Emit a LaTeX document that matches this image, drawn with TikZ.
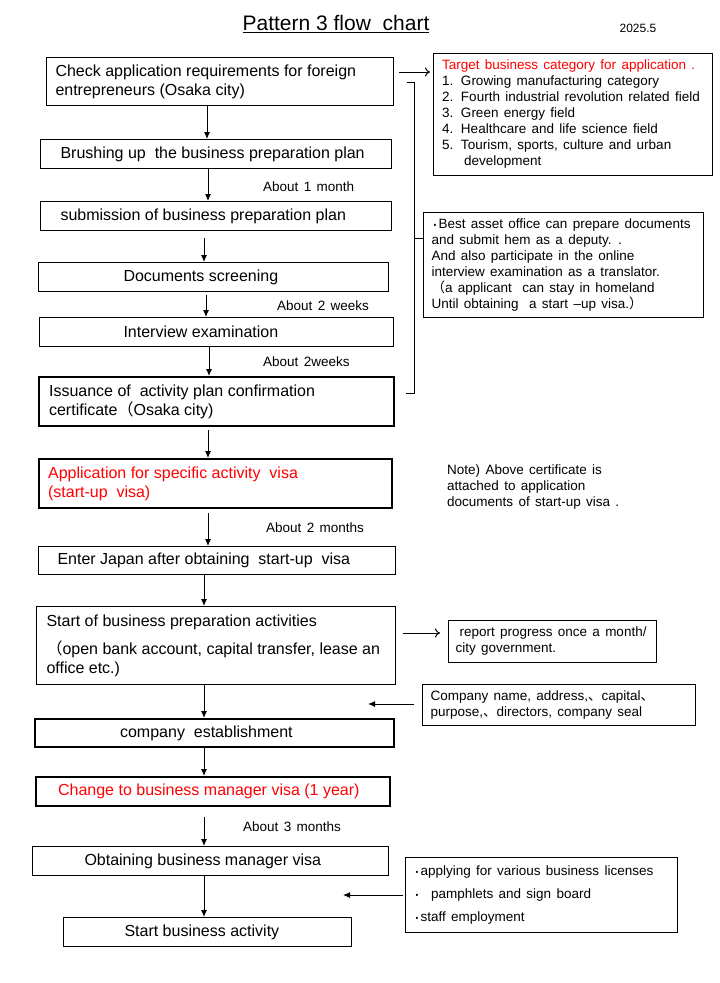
\documentclass[tikz,border=0pt]{standalone}
\usepackage{fontspec}
\setmainfont{Liberation Sans}
\newfontfamily\cjk{Noto Sans CJK JP}
\usetikzlibrary{arrows.meta}
\newcommand{\mainfs}{\fontsize{16pt}{19pt}\selectfont}
\newcommand{\smallfs}{\fontsize{13.5pt}{16pt}\selectfont\spaceskip=5.3pt plus 1pt minus 0.5pt\relax}
\newcommand{\num}[1]{\makebox[19pt][l]{#1}}
\newcommand{\mdot}{\makebox[7pt][c]{\raisebox{-2.2pt}{\scalebox{1.4}{\textperiodcentered}}}}
\tikzset{
  box/.style={draw=black, line width=1pt, anchor=north west, align=flush left, inner ysep=0pt, font=\mainfs},
  heavybox/.style={box, line width=2.2pt},
  sidebox/.style={draw=black, line width=1pt, anchor=north west, align=flush left, inner ysep=0pt, font=\smallfs},
  lbl/.style={anchor=west, inner sep=0pt, font=\smallfs},
  arr/.style={line width=1pt, -{Latex[length=7pt,width=6pt]}},
  oarr/.style={line width=1pt, -{To[length=5pt,width=9pt]}},
  plain/.style={line width=1pt}
}
\begin{document}
\begin{tikzpicture}[x=1pt,y=-1pt]
\useasboundingbox (0,0) rectangle (720,983);
% title
\node[font=\fontsize{21pt}{24pt}\selectfont, inner sep=0pt] (title) at (336,24) {\underline{Pattern 3 flow\ \ chart}};
\node[font=\fontsize{12pt}{14pt}\selectfont, inner sep=0pt] (date) at (638,28) {2025.5};

% main boxes
\node[box, minimum width=347pt, minimum height=48pt, text width=329pt, inner xsep=9pt] (b1) at (46,57)
  {Check application requirements for foreign\\entrepreneurs (Osaka city)};
\node[box, minimum width=351pt, minimum height=29pt, text width=311pt, inner xsep=20pt] (b2) at (40,139)
  {Brushing up\ \ the business preparation plan};
\node[box, minimum width=351pt, minimum height=29pt, text width=311pt, inner xsep=20pt] (b3) at (40,201)
  {submission of business preparation plan};
\node[box, minimum width=350pt, minimum height=29pt, text width=180pt, inner xsep=85pt] (b4) at (38,262)
  {Documents screening};
\node[box, minimum width=354pt, minimum height=29pt, text width=186pt, inner xsep=84pt] (b5) at (39,317)
  {Interview examination};
\node[heavybox, minimum width=355pt, minimum height=49pt, text width=335pt, inner xsep=10pt] (b6) at (38,376)
  {Issuance of\ \ activity plan confirmation\\certificate{\cjk （}Osaka city)};
\node[heavybox, minimum width=353pt, minimum height=49pt, text width=335pt, inner xsep=9pt, text=red] (b7) at (38,458)
  {Application for specific activity\ \ visa\\(start-up\ \ visa)};
\node[box, minimum width=357pt, minimum height=28pt, text width=319pt, inner xsep=19pt] (b8) at (38,546)
  {Enter Japan after obtaining\ \ start-up\ \ visa};
\node[box, minimum width=359pt, minimum height=78pt, text width=339pt, inner xsep=10pt] (b9) at (36,606)
  {Start of business preparation activities\\[9pt]{\cjk （}open bank account, capital transfer, lease an\\office etc.)};
\node[heavybox, minimum width=359pt, minimum height=28pt, text width=189pt, inner xsep=85pt] (b10) at (34,718)
  {company\ \ establishment};
\node[heavybox, minimum width=354pt, minimum height=29pt, text width=310pt, inner xsep=22pt, text=red] (b11) at (35,776)
  {Change to business manager visa (1 year)};
\node[box, minimum width=356pt, minimum height=29pt, text width=252pt, inner xsep=52pt] (b12) at (32,846)
  {Obtaining business manager visa};
\node[box, minimum width=288pt, minimum height=29pt, text width=166pt, inner xsep=61pt] (b13) at (63,917)
  {Start business activity};

% side boxes
\node[sidebox, minimum width=279pt, minimum height=122pt, text width=262pt, inner xsep=8.5pt] (r1) at (433,53)
  {\textcolor{red}{Target business category for application .}\\
   \num{1.}Growing manufacturing category\\
   \num{2.}Fourth industrial revolution related field\\
   \num{3.}Green energy field\\
   \num{4.}Healthcare and life science field\\
   \num{5.}Tourism, sports, culture and urban\\
   \hspace*{22pt}development};
\node[sidebox, minimum width=280pt, minimum height=105pt, text width=264pt, inner xsep=8pt] (r2) at (423,212)
  {\mdot Best asset office can prepare documents\\
   and submit hem as a deputy. .\\
   And also participate in the online\\
   interview examination as a translator.\\
   {\cjk （}a applicant\ \ can stay in homeland\\
   Until obtaining\ \ a start {\textendash}up visa.{\cjk ）}};
\node[lbl, align=flush left] (note) at (447,487)
  {Note) Above certificate is\\attached to application\\documents of start-up visa .};
\node[sidebox, minimum width=208pt, minimum height=42pt, text width=194pt, inner xsep=7pt] (r3) at (448,620)
  {\hspace*{4pt}report progress once a month/\\city government.};
\node[sidebox, minimum width=273pt, minimum height=41pt, text width=257pt, inner xsep=8pt] (r4) at (422,684)
  {Company name, address,{\cjk 、}capital{\cjk 、}\\purpose,{\cjk 、}directors, company seal};
\node[sidebox, minimum width=272pt, minimum height=75pt, text width=256pt, inner xsep=8pt, font=\smallfs\fontsize{13.5pt}{23pt}\selectfont] (r5) at (405,857)
  {\mdot applying for various business licenses\\
   \mdot\ \ pamphlets and sign board\\
   \mdot staff employment};

% labels
\node[lbl] (l1) at (263,187) {About 1 month};
\node[lbl] (l2) at (277,306) {About 2 weeks};
\node[lbl] (l3) at (263,362) {About 2weeks};
\node[lbl] (l4) at (266,528) {About 2 months};
\node[lbl] (l5) at (243,827) {About 3 months};

% arrow columns
\coordinate (c1) at (207,0);
\coordinate (c2) at (208,0);
\coordinate (c3) at (204,0);
\coordinate (c4) at (206,0);
\coordinate (c5) at (209,0);
\draw[arr] (b1.south -| c1) -- (b2.north -| c1);
\draw[arr] (b2.south -| c2) -- (b3.north -| c2);
\draw[arr, shorten <=7pt] (b3.south -| c3) -- (b4.north -| c3);
\draw[arr, shorten <=3pt] (b4.south -| c4) -- (b5.north -| c4);
\draw[arr] (b5.south -| c5) -- (b6.north -| c5);
\draw[arr, shorten <=3pt] (b6.south -| c2) -- (b7.north -| c2);
\draw[arr, shorten <=4pt] (b7.south -| c2) -- (b8.north -| c2);
\draw[arr] (b8.south -| c3) -- (b9.north -| c3);
\draw[arr] (b9.south -| c3) -- (b10.north -| c3);
\draw[arr] (b10.south -| c3) -- (b11.north -| c3);
\draw[arr, shorten <=10pt] (b11.south -| c3) -- (b12.north -| c3);
\draw[arr] (b12.south -| c3) -- (b13.north -| c3);

% side connectors
\coordinate (y1) at (0,72);
\draw[oarr, shorten <=5pt, shorten >=3pt] (b1.east |- y1) -- (r1.west |- y1);
\coordinate (y2) at (0,633);
\draw[oarr, shorten <=7pt, shorten >=8pt] (b9.east |- y2) -- (r3.west |- y2);
\coordinate (e4) at (368,704);
\draw[arr, shorten <=8pt] (r4.west |- e4) -- (e4);
\coordinate (e5) at (343,895);
\draw[arr, shorten <=2pt] (r5.west |- e5) -- (e5);

% bracket
\coordinate (bt) at (414,82);
\coordinate (bb) at (414,393);
\coordinate (bm) at (414,238);
\draw[plain] ([xshift=-7pt]bt) -- (bt) -- (bb) -- ([xshift=-8pt]bb);
\draw[plain] (bm) -- (bm -| r2.west);
\end{tikzpicture}
\end{document}
